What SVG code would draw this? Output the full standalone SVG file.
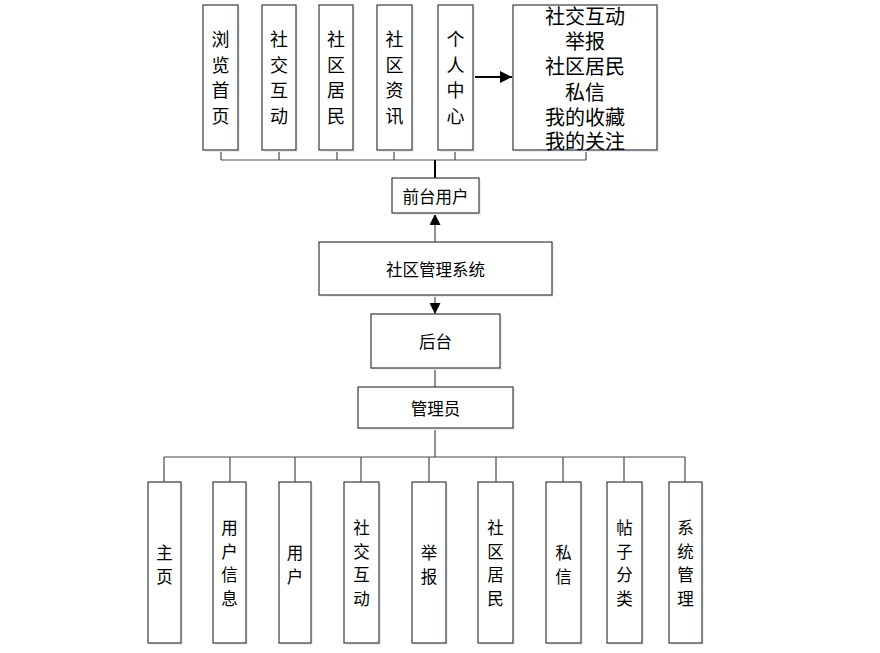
<svg xmlns="http://www.w3.org/2000/svg" width="880" height="653" viewBox="0 0 880 653">
<defs>
<style>
.box{fill:#fff;stroke:#3a3a3a;stroke-width:1.2}
.sh{fill:#e8eef5}
.ln{stroke:#4a4a4a;stroke-width:1.2;fill:none}
.dk{stroke:#000;stroke-width:2;fill:none}
.t{font-family:"Noto Sans CJK SC","Liberation Sans",sans-serif;fill:#000;text-anchor:middle;dominant-baseline:central}
.t18{font-size:18px}
.t20{font-size:20px}
.t16{font-size:16.5px}
.t17{font-size:16.5px}
</style>
<marker id="ah" viewBox="0 0 10 10" refX="10" refY="5" markerWidth="11" markerHeight="11" markerUnits="userSpaceOnUse" orient="auto">
<path d="M0,0 L10,5 L0,10 Z" fill="#000"/>
</marker>
<marker id="ahb" viewBox="0 0 10 10" refX="10" refY="5" markerWidth="6" markerHeight="6" orient="auto">
<path d="M0,0 L10,5 L0,10 Z" fill="#000"/>
</marker>
</defs>
<rect width="880" height="653" fill="#fff"/>

<g id="connectors">
<path class="ln" d="M221,150V160M279,150V160M337,150V160M394,150V160M455,150V160M586,150V160M221,160H586"/>
<path class="dk" d="M435,160V178"/>
<path class="dk" d="M473,77H512" marker-end="url(#ahb)"/>
<path class="ln" d="M435,242V214" marker-end="url(#ah)"/>
<path class="ln" d="M435,295V314" marker-end="url(#ah)"/>
<path class="ln" d="M435,368V387"/>
<path class="ln" d="M435,428V457"/>
<path class="ln" d="M164,457H685M164,457V482M230,457V482M295,457V482M361,457V482M429,457V482M496,457V482M563,457V482M624,457V482M685,457V482"/>
</g>

<g id="n_liulan"><rect class="sh" x="205" y="7" width="35" height="145"/><rect class="box" x="203" y="5" width="35" height="145"/>
<text class="t t18" x="220.5" y="38"><tspan x="220.5">浏</tspan><tspan x="220.5" dy="25.5">览</tspan><tspan x="220.5" dy="25.5">首</tspan><tspan x="220.5" dy="25.5">页</tspan></text></g>
<g id="n_shejiao"><rect class="sh" x="264" y="7" width="34" height="145"/><rect class="box" x="262" y="5" width="34" height="145"/>
<text class="t t18" x="279" y="38"><tspan x="279">社</tspan><tspan x="279" dy="25.5">交</tspan><tspan x="279" dy="25.5">互</tspan><tspan x="279" dy="25.5">动</tspan></text></g>
<g id="n_jumin"><rect class="sh" x="321" y="7" width="34" height="145"/><rect class="box" x="319" y="5" width="34" height="145"/>
<text class="t t18" x="336" y="38"><tspan x="336">社</tspan><tspan x="336" dy="25.5">区</tspan><tspan x="336" dy="25.5">居</tspan><tspan x="336" dy="25.5">民</tspan></text></g>
<g id="n_zixun"><rect class="sh" x="379" y="7" width="35" height="145"/><rect class="box" x="377" y="5" width="35" height="145"/>
<text class="t t18" x="394.5" y="38"><tspan x="394.5">社</tspan><tspan x="394.5" dy="25.5">区</tspan><tspan x="394.5" dy="25.5">资</tspan><tspan x="394.5" dy="25.5">讯</tspan></text></g>
<g id="n_geren"><rect class="sh" x="440" y="7" width="35" height="145"/><rect class="box" x="438" y="5" width="35" height="145"/>
<text class="t t18" x="455.5" y="38"><tspan x="455.5">个</tspan><tspan x="455.5" dy="25.5">人</tspan><tspan x="455.5" dy="25.5">中</tspan><tspan x="455.5" dy="25.5">心</tspan></text></g>
<g id="n_gerenlist"><rect class="sh" x="515" y="7" width="144" height="145"/><rect class="box" x="513" y="5" width="144" height="145"/>
<text class="t t20" x="585" y="15"><tspan x="585">社交互动</tspan><tspan x="585" dy="25.2">举报</tspan><tspan x="585" dy="25.2">社区居民</tspan><tspan x="585" dy="25.2">私信</tspan><tspan x="585" dy="25.2">我的收藏</tspan><tspan x="585" dy="24">我的关注</tspan></text></g>

<g id="n_qiantai"><rect class="sh" x="394" y="180" width="87" height="35"/><rect class="box" x="392" y="178" width="87" height="35"/>
<text class="t t17" x="435.5" y="196">前台用户</text></g>
<g id="n_system"><rect class="sh" x="321" y="244" width="233" height="53"/><rect class="box" x="319" y="242" width="233" height="53"/>
<text class="t t17" x="435.5" y="268.5">社区管理系统</text></g>
<g id="n_houtai"><rect class="sh" x="373" y="316" width="129" height="54"/><rect class="box" x="371" y="314" width="129" height="54"/>
<text class="t t17" x="435.5" y="341">后台</text></g>
<g id="n_admin"><rect class="sh" x="360" y="389" width="155" height="41"/><rect class="box" x="358" y="387" width="155" height="41"/>
<text class="t t17" x="435.5" y="408">管理员</text></g>

<g id="n_zhuye"><rect class="sh" x="150" y="484" width="33" height="161"/><rect class="box" x="148" y="482" width="33" height="161"/>
<text class="t t16" x="164.5" y="552"><tspan x="164.5">主</tspan><tspan x="164.5" dy="23.5">页</tspan></text></g>
<g id="n_yhxx"><rect class="sh" x="215" y="484" width="33" height="161"/><rect class="box" x="213" y="482" width="33" height="161"/>
<text class="t t16" x="229.5" y="527"><tspan x="229.5">用</tspan><tspan x="229.5" dy="23.5">户</tspan><tspan x="229.5" dy="23.5">信</tspan><tspan x="229.5" dy="23.5">息</tspan></text></g>
<g id="n_yonghu"><rect class="sh" x="281" y="484" width="32" height="161"/><rect class="box" x="279" y="482" width="32" height="161"/>
<text class="t t16" x="295" y="552"><tspan x="295">用</tspan><tspan x="295" dy="23.5">户</tspan></text></g>
<g id="n_sjhd"><rect class="sh" x="346" y="484" width="35" height="161"/><rect class="box" x="344" y="482" width="35" height="161"/>
<text class="t t16" x="361.5" y="527"><tspan x="361.5">社</tspan><tspan x="361.5" dy="23.5">交</tspan><tspan x="361.5" dy="23.5">互</tspan><tspan x="361.5" dy="23.5">动</tspan></text></g>
<g id="n_jubao"><rect class="sh" x="414" y="484" width="34" height="161"/><rect class="box" x="412" y="482" width="34" height="161"/>
<text class="t t16" x="429" y="552"><tspan x="429">举</tspan><tspan x="429" dy="23.5">报</tspan></text></g>
<g id="n_sqjm"><rect class="sh" x="480" y="484" width="35" height="161"/><rect class="box" x="478" y="482" width="35" height="161"/>
<text class="t t16" x="495.5" y="527"><tspan x="495.5">社</tspan><tspan x="495.5" dy="23.5">区</tspan><tspan x="495.5" dy="23.5">居</tspan><tspan x="495.5" dy="23.5">民</tspan></text></g>
<g id="n_sixin"><rect class="sh" x="548" y="484" width="35" height="161"/><rect class="box" x="546" y="482" width="35" height="161"/>
<text class="t t16" x="563.5" y="552"><tspan x="563.5">私</tspan><tspan x="563.5" dy="23.5">信</tspan></text></g>
<g id="n_tzfl"><rect class="sh" x="609" y="484" width="35" height="161"/><rect class="box" x="607" y="482" width="35" height="161"/>
<text class="t t16" x="624.5" y="527"><tspan x="624.5">帖</tspan><tspan x="624.5" dy="23.5">子</tspan><tspan x="624.5" dy="23.5">分</tspan><tspan x="624.5" dy="23.5">类</tspan></text></g>
<g id="n_xtgl"><rect class="sh" x="671" y="484" width="33" height="161"/><rect class="box" x="669" y="482" width="33" height="161"/>
<text class="t t16" x="685.5" y="527"><tspan x="685.5">系</tspan><tspan x="685.5" dy="23.5">统</tspan><tspan x="685.5" dy="23.5">管</tspan><tspan x="685.5" dy="23.5">理</tspan></text></g>
</svg>
